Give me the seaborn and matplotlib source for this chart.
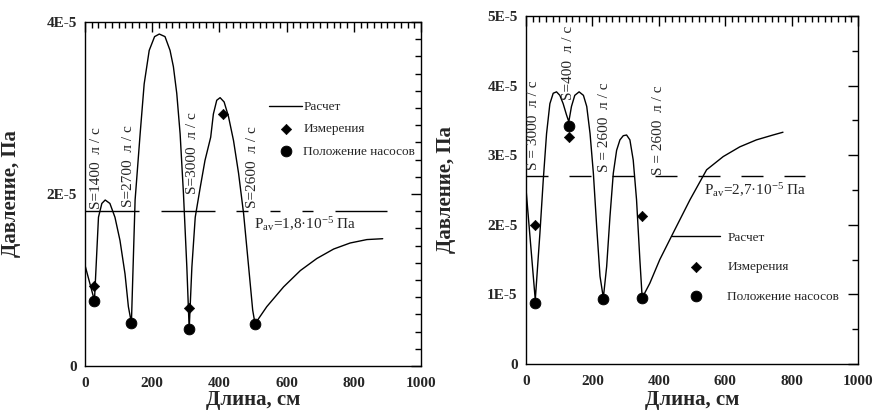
import numpy as np
import matplotlib
matplotlib.use("Agg")
import matplotlib.pyplot as plt
from matplotlib.ticker import MultipleLocator
import seaborn as sns

# Left chart: calculated pressure along the length
left_x = [0, 28, 40, 50, 60, 74, 89, 104, 119, 129, 138,
          149, 164, 176, 191, 207, 221, 238, 253, 263, 273, 283, 293, 303, 310,
          318, 328, 343, 357, 374, 382, 392, 402, 414, 427, 442, 457, 472, 487, 499, 506,
          541, 591, 641, 690, 740, 789, 839, 886]
left_y = [1.17, 0.76, 1.73, 1.89, 1.93, 1.89, 1.73, 1.46, 1.07, 0.69, 0.50,
          1.93, 2.70, 3.28, 3.67, 3.83, 3.86, 3.83, 3.67, 3.48, 3.17, 2.70, 2.00, 1.15, 0.43,
          1.15, 1.73, 2.08, 2.39, 2.66, 2.93, 3.09, 3.12, 3.07, 2.90, 2.62, 2.24, 1.77, 1.15, 0.65, 0.49,
          0.69, 0.92, 1.11, 1.25, 1.36, 1.43, 1.47, 1.48]
left_meas_x = [28, 310, 410]
left_meas_y = [0.93, 0.67, 2.93]
left_pump_x = [28, 138, 310, 506]
left_pump_y = [0.75, 0.50, 0.43, 0.49]
left_pav = 1.8
left_pav_end = 899
left_labels = ["S=1400  л / с", "S=2700  л / с", "S=3000  л / с", "S=2600  л / с"]
left_label_x = [33, 129, 320, 499]
left_label_y = [1.83, 1.85, 2.0, 1.84]

# Right chart
right_x = [0, 28, 42, 52, 62, 72, 82, 92, 102, 112, 122, 129,
           137, 147, 160, 173, 183, 193, 203, 213, 223, 233,
           243, 253, 263, 273, 283, 293, 303, 313, 323, 333, 343, 350,
           373, 403, 443, 494, 544, 594, 644, 694, 744, 774]
right_y = [2.52, 0.92, 1.88, 2.64, 3.31, 3.74, 3.89, 3.91, 3.86, 3.74, 3.58, 3.48,
           3.70, 3.86, 3.91, 3.86, 3.70, 3.31, 2.74, 1.97, 1.26, 0.95,
           1.40, 2.12, 2.74, 3.07, 3.22, 3.28, 3.29, 3.22, 2.93, 2.36, 1.50, 0.95,
           1.16, 1.50, 1.88, 2.36, 2.79, 2.98, 3.12, 3.22, 3.29, 3.33]
right_meas_x = [28, 129, 348]
right_meas_y = [1.99, 3.26, 2.13]
right_pump_x = [28, 129, 233, 350]
right_pump_y = [0.875, 3.42, 0.94, 0.95]
right_pav = 2.7
right_pav_end = 840
right_labels = ["S = 3000  л / с", "S=400  л / с", "S = 2600  л / с", "S = 2600  л / с"]
right_label_x = [24, 127, 236, 398]
right_label_y = [2.79, 3.79, 2.76, 2.71]

SCALE = 1e-5

sns.set_style("white")
plt.rcParams["font.family"] = ["Liberation Serif", "DejaVu Serif"]
plt.rcParams["mathtext.fontset"] = "custom"
plt.rcParams["mathtext.rm"] = "Liberation Serif"
plt.rcParams["mathtext.it"] = "Liberation Serif:italic"
plt.rcParams["lines.scale_dashes"] = False


def px(v):
    # pixels -> points at dpi 100
    return v * 0.72


def draw_panel(ax, cx, cy, mx, my, qx, qy, pav, pav_end, dashes,
               labels, lx, ly, pav_text, pav_pos, ymax, ymajor, yminor, yticklabels,
               leg_anchor, leg_kw):
    sns.lineplot(x=cx, y=np.array(cy) * SCALE, ax=ax, color="black", lw=1,
                 sort=False, label="Расчет")
    sns.scatterplot(x=mx, y=np.array(my) * SCALE, ax=ax, marker="D", s=28,
                    color="black", edgecolor="black", label="Измерения", zorder=5)
    sns.scatterplot(x=qx, y=np.array(qy) * SCALE, ax=ax, marker="o", s=60,
                    color="black", edgecolor="black", label="Положение насосов", zorder=5)
    ax.hlines(pav * SCALE, 0, pav_end, color="black", lw=1, linestyles=[(0, dashes)])

    for s, x, y in zip(labels, lx, ly):
        ax.text(x, y * SCALE, s, rotation=90, ha="center", va="bottom", fontsize=11)
    ax.text(pav_pos[0], pav_pos[1] * SCALE, pav_text, fontsize=11, va="center", ha="left")

    ax.set_xlim(0, 1000)
    ax.set_ylim(0, ymax * SCALE)
    ax.set_xticks(range(0, 1001, 200))
    ax.set_xticklabels([str(v) for v in range(0, 1001, 200)])
    ax.xaxis.set_minor_locator(MultipleLocator(20))
    ax.set_yticks([v * SCALE for v in ymajor])
    ax.set_yticklabels(yticklabels)
    ax.yaxis.set_minor_locator(MultipleLocator(yminor * SCALE))
    ax.tick_params(which="both", direction="in", top=True, right=True, width=1, color="black")
    ax.tick_params(which="major", length=7, labelsize=11)
    ax.tick_params(axis="x", which="major", pad=8)
    ax.tick_params(axis="y", which="major", pad=6)
    ax.tick_params(which="minor", length=4)
    for lab in ax.get_xticklabels() + ax.get_yticklabels():
        lab.set_fontweight("bold")
    for sp in ax.spines.values():
        sp.set_linewidth(1)
        sp.set_color("black")

    ax.set_xlabel("Длина, см", fontsize=15, fontweight="bold")
    ax.set_ylabel("Давление, Па", fontsize=15, fontweight="bold")

    ax.legend(loc="upper left", bbox_to_anchor=leg_anchor, frameon=False,
              fontsize=9.5, borderpad=0, borderaxespad=0, **leg_kw)


fig = plt.figure(figsize=(8.74, 4.12), dpi=100)
ax1 = fig.add_axes([0.0973, 0.1117, 0.3844, 0.8349])
ax2 = fig.add_axes([0.6018, 0.1165, 0.3799, 0.8447])

left_dashes = [px(v) for v in [54, 22, 54, 21, 12, 22, 10, 22, 11, 22, 52, 60]]
right_dashes = [px(22), px(21)]

draw_panel(ax1, left_x, left_y, left_meas_x, left_meas_y, left_pump_x, left_pump_y,
           left_pav, left_pav_end, left_dashes,
           left_labels, left_label_x, left_label_y,
           r"P$_{\mathrm{av}}$=1,8·10$^{-5}$ Па", (503, 1.65),
           4, [0, 2, 4], 0.2, ["0", "2E-5", "4E-5"],
           (0.548, 0.77), dict(handlelength=2.5, handletextpad=0.1, labelspacing=0.75))
draw_panel(ax2, right_x, right_y, right_meas_x, right_meas_y, right_pump_x, right_pump_y,
           right_pav, right_pav_end, right_dashes,
           right_labels, right_label_x, right_label_y,
           r"P$_{\mathrm{av}}$=2,7·10$^{-5}$ Па", (536, 2.5),
           5, [0, 1, 2, 3, 4, 5], 0.5, ["0", "1E-5", "2E-5", "3E-5", "4E-5", "5E-5"],
           (0.44, 0.38), dict(handlelength=3.6, handletextpad=0.6, labelspacing=1.3))

ax1.yaxis.set_label_coords(-0.19, 0.5)
ax2.yaxis.set_label_coords(-0.212, 0.5)
ax1.xaxis.set_label_coords(0.5, -0.07)
ax2.xaxis.set_label_coords(0.5, -0.075)

fig.savefig("out.png", dpi=100)
